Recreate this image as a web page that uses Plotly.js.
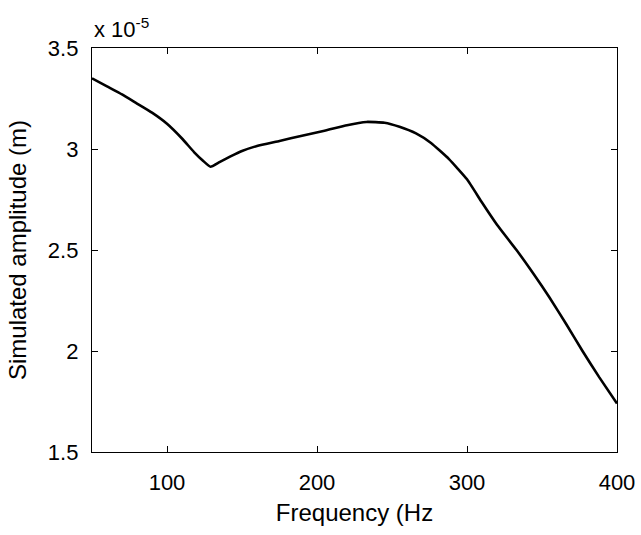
<!DOCTYPE html>
<html>
<head>
<meta charset="utf-8">
<script src="https://cdn.plot.ly/plotly-3.0.1.min.js"></script>
<style>html,body{margin:0;padding:0;background:#fff}#chart{width:641px;height:535px}</style>
</head>
<body>
<div id="chart"></div>
<script>
// Frequency (Hz)
var frequency = [50,60,70,80,90,100,110,118,124,129,135,142,150,160,175,190,205,220,233,245,255,266,276,288,300,310,320,333,345,355,366,377,388,400];
// Simulated amplitude, in units of 1e-5 m
var amplitude = [3.350,3.310,3.270,3.225,3.180,3.125,3.052,2.985,2.942,2.912,2.935,2.962,2.990,3.015,3.040,3.066,3.090,3.118,3.134,3.130,3.110,3.077,3.030,2.950,2.850,2.735,2.625,2.500,2.375,2.265,2.135,2.000,1.872,1.740];
var xTicks = [100,200,300,400];
var yTicks = [1.5,2,2.5,3,3.5];
var yTickText = ['1.5','2','2.5','3','3.5'];

var font = 'Liberation Sans, Arial, sans-serif';
var trace = {
  x: frequency, y: amplitude, type: 'scatter', mode: 'lines',
  line: {color: '#000', width: 2.6, shape: 'spline', smoothing: 0.4},
  hoverinfo: 'skip'
};
var layout = {
  width: 641, height: 535,
  margin: {l: 92, r: 24, t: 48, b: 83},
  paper_bgcolor: '#fff', plot_bgcolor: '#fff',
  showlegend: false,
  font: {family: font, color: '#000', size: 22},
  xaxis: {
    range: [50, 400], tickvals: xTicks, ticks: 'inside', ticklen: 6, tickcolor: '#000',
    showline: true, linecolor: '#000', linewidth: 1.2, mirror: 'ticks',
    showgrid: false, zeroline: false, ticklabelstandoff: 10,
    tickfont: {size: 22, family: font, color: '#000'},
    title: {text: 'Frequency (Hz', font: {size: 24, family: font, color: '#000'}, standoff: 10}
  },
  yaxis: {
    range: [1.5, 3.5], tickvals: yTicks, ticktext: yTickText, ticks: 'inside', ticklen: 6, tickcolor: '#000',
    showline: true, linecolor: '#000', linewidth: 1.2, mirror: 'ticks',
    showgrid: false, zeroline: false, ticklabelstandoff: 8,
    tickfont: {size: 22, family: font, color: '#000'},
    title: {text: 'Simulated amplitude (m)', font: {size: 24, family: font, color: '#000'}, standoff: 14}
  },
  annotations: [{
    xref: 'paper', yref: 'paper', x: 0, y: 1, xanchor: 'left', yanchor: 'bottom',
    text: 'x 10<sup>-5</sup>', showarrow: false, yshift: 4,
    font: {size: 22, family: font, color: '#000'}
  }]
};
Plotly.newPlot('chart', [trace], layout, {displayModeBar: false, staticPlot: true});
</script>
</body>
</html>
